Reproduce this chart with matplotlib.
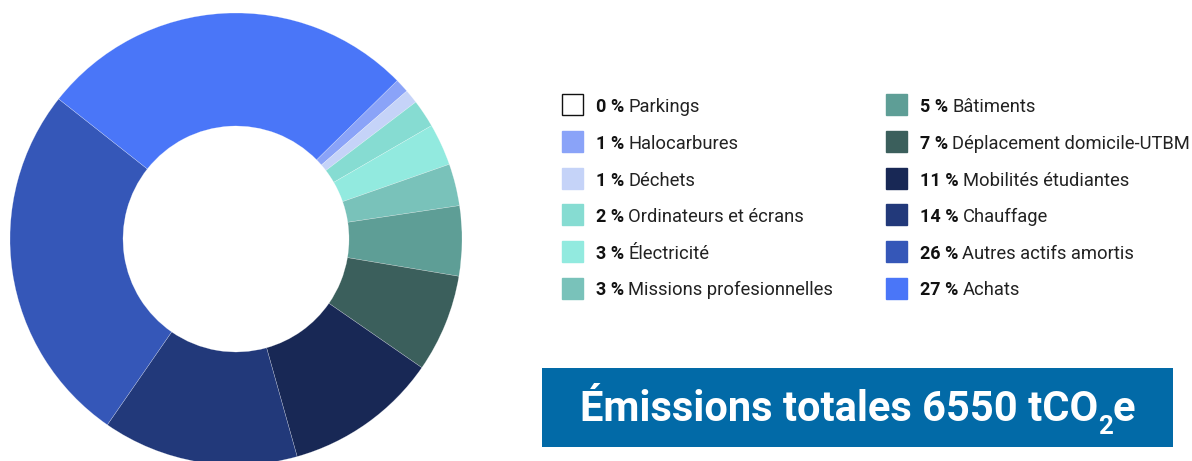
import matplotlib
matplotlib.use("Agg")
import matplotlib.pyplot as plt
from matplotlib.patches import Rectangle

# ---- data ----
categories = ["Parkings", "Halocarbures", "Déchets", "Ordinateurs et écrans", "Électricité",
              "Missions profesionnelles", "Bâtiments", "Déplacement domicile-UTBM",
              "Mobilités étudiantes", "Chauffage", "Autres actifs amortis", "Achats"]
percents = [0, 1, 1, 2, 3, 3, 5, 7, 11, 14, 26, 27]
colors = ["#ffffff", "#8aa3f8", "#c5d3f8", "#86dcd2", "#92eadf", "#79c2ba",
          "#5e9e96", "#3b5f5c", "#182855", "#22397a", "#3557b8", "#4a76f8"]
title_main = "Émissions totales 6550 tCO"
title_sub = "2"
title_end = "e"

W, H = 1192, 461
FONT = "Roboto"
fig = plt.figure(figsize=(W / 100, H / 100), dpi=100)
ax = fig.add_axes([0, 0, 1, 1])

# donut (pixel coordinates, y measured from bottom)
cx, cy_top, R, r_in = 236, 239, 226, 113
ax.pie(percents, colors=colors, startangle=44.5, counterclock=False,
       center=(cx, H - cy_top), radius=R, frame=True,
       wedgeprops=dict(width=R - r_in, edgecolor=(1, 1, 1, 0.45), linewidth=0.3))
ax.set_xlim(0, W)
ax.set_ylim(0, H)
ax.set_aspect("auto")
ax.axis("off")

fig.canvas.draw()
renderer = fig.canvas.get_renderer()

def text_width(t):
    return t.get_window_extent(renderer).width

# legend
row_y = [105, 142, 179, 215, 252, 288]
col_x = [562, 886]
sq = 21
for i, (cat, p, c) in enumerate(zip(categories, percents, colors)):
    col = i // 6
    row = i % 6
    x0 = col_x[col]
    yc = H - row_y[row]
    ax.add_patch(Rectangle((x0, yc - sq / 2), sq, sq, facecolor=c,
                           edgecolor="#111111" if p == 0 else c, linewidth=1.0))
    tx = x0 + 34
    tb = ax.text(tx, yc, f"{p} %", fontsize=13, fontweight="bold", family=FONT,
                 color="#111111", va="center_baseline", ha="left")
    w = text_width(tb)
    ax.text(tx + w + 4, yc, cat, fontsize=13.2, family=FONT, color="#222222",
            va="center_baseline", ha="left")

# title box
bx0, bx1, by0, by1 = 542, 1173, 368, 447
ax.add_patch(Rectangle((bx0, H - by1), bx1 - bx0, by1 - by0, facecolor="#026aa7",
                       edgecolor="none"))
base_y = H - 421
fs = 30
t1 = ax.text(0, base_y, title_main, fontsize=fs, fontweight="bold", family=FONT,
             color="white", va="baseline", ha="left")
t2 = ax.text(0, base_y - 13, title_sub, fontsize=fs * 0.62, fontweight="bold", family=FONT,
             color="white", va="baseline", ha="left")
t3 = ax.text(0, base_y, title_end, fontsize=fs, fontweight="bold", family=FONT,
             color="white", va="baseline", ha="left")
w1, w2, w3 = text_width(t1), text_width(t2), text_width(t3)
total = w1 + w2 + w3
start = (bx0 + bx1) / 2 - total / 2
t1.set_x(start)
t2.set_x(start + w1)
t3.set_x(start + w1 + w2)

fig.savefig("out.png", dpi=100)
